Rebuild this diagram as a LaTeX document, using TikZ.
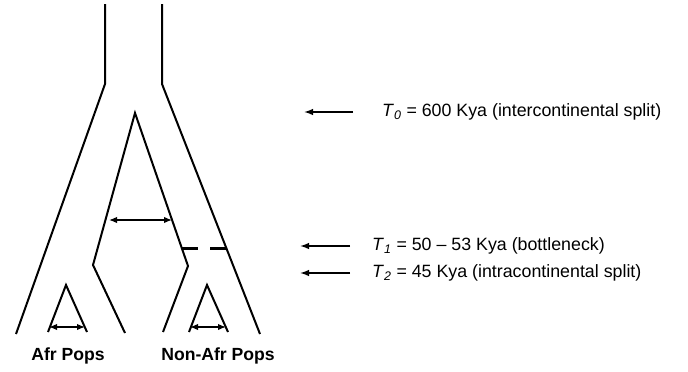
\documentclass[tikz,border=0pt]{standalone}
\usepackage{fontspec}
\setmainfont{Liberation Sans}
\usetikzlibrary{arrows.meta}
\begin{document}
\begin{tikzpicture}[x=1pt,y=-1pt,
  branch/.style={line width=2pt, line join=miter},
  gene/.style={line width=1.4pt, {Latex[length=8pt,width=6.5pt]}-{Latex[length=8pt,width=6.5pt]}},
  timearrow/.style={line width=1.4pt, -{Latex[length=9pt,width=6.5pt]}},
  lbl/.style={font=\fontsize{17.8}{21}\selectfont, anchor=west, inner sep=0pt},
  pop/.style={font=\bfseries\fontsize{17.6}{21}\selectfont, inner sep=0pt}]
\useasboundingbox (0,0) rectangle (688,372);
% trunk
\coordinate (lt) at (105,4);
\coordinate (lk) at (105,84);
\coordinate (lb) at (16,334);
\coordinate (rt) at (162,4);
\coordinate (rk) at (162,84);
\coordinate (rb) at (260,334);
\draw[branch] (lt) -- (lk) -- (lb);
\draw[branch] (rt) -- (rk) -- (rb);
% inner A
\coordinate (apex) at (135,113);
\coordinate (ilk) at (93,265);
\coordinate (ilb) at (125,333);
\coordinate (irk) at (188,266);
\coordinate (irb) at (163,332);
\draw[branch] (ilb) -- (ilk) -- (apex) -- (irk) -- (irb);
% migration arrow
\coordinate (ma) at (109,220);
\coordinate (mb) at (172,220);
\draw[gene] (ma) -- (mb);
% bottleneck dashes
\coordinate (d1) at (182,248);
\coordinate (d2) at (198,248);
\coordinate (d3) at (210,248);
\coordinate (d4) at (227,248);
\draw[line width=3pt] (d1) -- (d2);
\draw[line width=3pt] (d3) -- (d4);
% small triangles
\coordinate (sa) at (66,285);
\coordinate (sal) at (48,332);
\coordinate (sar) at (87,332);
\draw[branch] (sal) -- (sa) -- (sar);
\coordinate (sma) at (49,327);
\coordinate (smb) at (85,327);
\draw[gene] (sma) -- (smb);
\coordinate (sb) at (207,285);
\coordinate (sbl) at (189,332);
\coordinate (sbr) at (228,332);
\draw[branch] (sbl) -- (sb) -- (sbr);
\coordinate (smc) at (190,327);
\coordinate (smd) at (226,327);
\draw[gene] (smc) -- (smd);
% population labels
\node[pop] (afr) at (68,356) {Afr Pops};
\node[pop] (nafr) at (218,356) {Non-Afr Pops};
% time labels
\node[lbl] (t0) at (382,112) {\textit{T}\textsubscript{\textit{0}} = 600 Kya (intercontinental split)};
\node[lbl] (t1) at (372,246) {\textit{T}\textsubscript{\textit{1}} = 50 -- 53 Kya (bottleneck)};
\node[lbl] (t2) at (372,273) {\textit{T}\textsubscript{\textit{2}} = 45 Kya (intracontinental split)};
\coordinate (a0) at (353,112);
\coordinate (b0) at (304,112);
\coordinate (a1) at (350,246);
\coordinate (b1) at (300,246);
\coordinate (a2) at (350,273);
\coordinate (b2) at (300,273);
\draw[timearrow] (a0) -- (b0);
\draw[timearrow] (a1) -- (b1);
\draw[timearrow] (a2) -- (b2);
\end{tikzpicture}
\end{document}
